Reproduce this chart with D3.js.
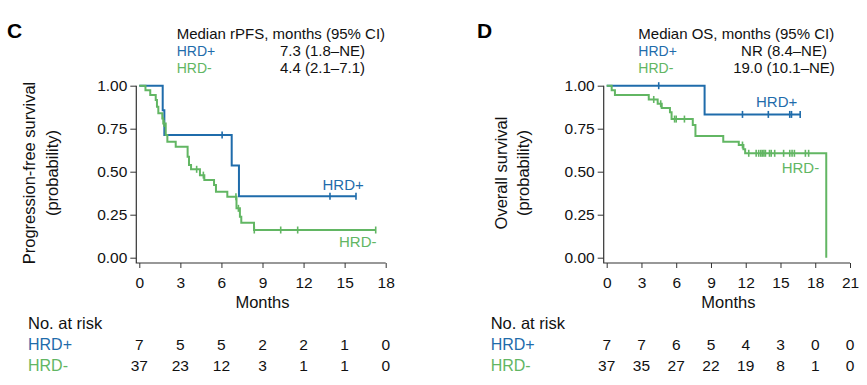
<!DOCTYPE html>
<html>
<head>
<meta charset="utf-8">
<script src="https://cdn.jsdelivr.net/npm/d3@7"></script>
<style>
body { margin: 0; background: #fff; }
svg { font-family: "Liberation Sans", Arial, sans-serif; }
</style>
</head>
<body>
<svg id="chart"></svg>
<script>
var width = 867;
var height = 385;

var blue = "#1f6cab";
var green = "#62b663";

// rPFS panel (C)
var pfsTicks = [0, 3, 6, 9, 12, 15, 18];
var pfsPosTimes = [0, 1.71, 1.83, 6.75, 7.28];
var pfsPosSurv = [1, 0.857, 0.714, 0.536, 0.357];
var pfsPosCensor = [6.05, 13.93, 15.83];
var pfsPosEnd = 15.83;
var pfsNegTimes = [0, 0.45, 0.8, 1.2, 1.29, 1.39, 1.68, 1.75, 1.93, 2.05, 2.66, 3.53, 3.63, 3.78, 4.43, 4.75, 5.46, 5.6, 6.43, 7.1, 7.35, 7.45, 8.38];
var pfsNegSurv = [1, 0.973, 0.946, 0.917, 0.878, 0.84, 0.81, 0.78, 0.713, 0.674, 0.645, 0.587, 0.539, 0.514, 0.48, 0.452, 0.423, 0.384, 0.355, 0.287, 0.238, 0.203, 0.161];
var pfsNegCensor = [1.8, 4.19, 4.68, 7.06, 7.24, 8.4, 10.33, 11.57, 17.27];
var pfsNegEnd = 17.27;
var pfsRiskPos = [7, 5, 5, 2, 2, 1, 0];
var pfsRiskNeg = [37, 23, 12, 3, 1, 1, 0];

// OS panel (D)
var osTicks = [0, 3, 6, 9, 12, 15, 18, 21];
var osPosTimes = [0, 8.45];
var osPosSurv = [1, 0.833];
var osPosCensor = [4.49, 11.72, 13.95, 15.8, 15.95, 16.7];
var osPosEnd = 16.7;
var osNegTimes = [0, 0.43, 0.71, 3.63, 4.4, 4.75, 5.46, 5.6, 7.43, 7.66, 10.06, 11.4, 11.8, 11.95, 18.95];
var osNegSurv = [1, 0.973, 0.946, 0.92, 0.895, 0.87, 0.845, 0.806, 0.772, 0.708, 0.674, 0.655, 0.63, 0.607, 0];
var osNegCensor = [4.06, 4.66, 5.86, 6.0, 6.71, 11.72, 12.26, 12.9, 13.12, 13.3, 13.43, 13.57, 13.7, 14.05, 14.2, 14.5, 15.27, 15.8, 16.0, 16.2, 17.15, 17.43];
var osNegEnd = 18.95;
var osRiskPos = [7, 7, 6, 5, 4, 3, 0, 0];
var osRiskNeg = [37, 35, 27, 22, 19, 8, 1, 0];

var yTicks = [0, 0.25, 0.5, 0.75, 1];

var svg = d3.select("#chart")
.attr("width", width)
.attr("height", height);

function drawPanel(p) {
	var g = svg.append("g");
	var x = d3.scaleLinear().domain([0, p.ticks[p.ticks.length - 1]]).range([p.x0, p.x1]);
	var y = d3.scaleLinear().domain([0, 1]).range([257.7, 85.7]);
	var axisX = p.x0 - 3;
	var axisY = 263;

	// panel letter and median table
	g.append("text").attr("x", p.letterX).attr("y", 37.5)
	.style("font-size", "21px").style("font-weight", "bold").text(p.letter);
	g.append("text").attr("x", p.headX).attr("y", 39)
	.style("font-size", "15px").style("fill", "#111").text(p.title);
	[[p.medPos, blue, "HRD+", 56], [p.medNeg, green, "HRD-", 73]].forEach(function (r) {
		g.append("text").attr("x", p.headX).attr("y", r[3])
		.style("font-size", "14px").style("fill", r[1]).text(r[2]);
		g.append("text").attr("x", p.medX).attr("y", r[3])
		.style("font-size", "15px").style("fill", "#111")
		.style("text-anchor", "middle").text(r[0]);
	});

	// axes
	g.append("g").attr("transform", "translate(" + axisX + ",0)")
	.call(d3.axisLeft(y).tickValues(yTicks).tickFormat(d3.format(".2f"))
		.tickSize(6).tickPadding(3))
	.call(function (a) { a.select(".domain").remove(); });
	g.append("g").attr("transform", "translate(0," + axisY + ")")
	.call(d3.axisBottom(x).tickValues(p.ticks).tickSize(5).tickPadding(9))
	.call(function (a) { a.select(".domain").remove(); });
	g.selectAll(".tick text").style("font-size", "15.5px").style("fill", "#111")
	.style("font-family", "'Liberation Sans', Arial, sans-serif");
	g.selectAll(".tick line").style("stroke", "#333");
	g.append("path")
	.attr("d", "M" + axisX + "," + y(1) + "V" + axisY + "H" + x(p.ticks[p.ticks.length - 1]))
	.style("fill", "none").style("stroke", "#333").style("stroke-width", 1.2);

	g.append("text").attr("x", (p.x0 + p.x1) / 2).attr("y", 308)
	.style("font-size", "16.5px").style("text-anchor", "middle").style("fill", "#111")
	.text("Months");

	p.yTitle.forEach(function (t, i) {
		g.append("text")
		.attr("transform", "translate(" + p.yTitleX[i] + ",173) rotate(-90)")
		.style("font-size", "16.5px").style("text-anchor", "middle").style("fill", "#111")
		.text(t);
	});

	// curves
	var line = d3.line()
	.x(function (d) { return x(d[0]); })
	.y(function (d) { return y(d[1]); })
	.curve(d3.curveStepAfter);

	p.curves.forEach(function (c) {
		var pts = c.times.map(function (t, i) { return [t, c.surv[i]]; });
		pts.push([c.end, c.surv[c.surv.length - 1]]);
		g.append("path").attr("d", line(pts))
		.style("fill", "none").style("stroke", c.color).style("stroke-width", 2);
		g.selectAll(null).data(c.censor).enter().append("line")
		.attr("x1", function (d) { return x(d); })
		.attr("x2", function (d) { return x(d); })
		.attr("y1", function (d) { return y(c.surv[d3.bisectRight(c.times, d) - 1]) - 3.5; })
		.attr("y2", function (d) { return y(c.surv[d3.bisectRight(c.times, d) - 1]) + 3.5; })
		.style("stroke", c.color).style("stroke-width", 1.6);
		g.append("text").attr("x", c.labelX).attr("y", c.labelY)
		.style("font-size", "15px").style("fill", c.color).text(c.label);
	});

	// number at risk
	g.append("text").attr("x", p.riskX).attr("y", 329)
	.style("font-size", "16.5px").style("fill", "#111").text("No. at risk");
	[[p.riskPos, blue, "HRD+", 350], [p.riskNeg, green, "HRD-", 370.5]].forEach(function (r) {
		g.append("text").attr("x", p.riskX).attr("y", r[3])
		.style("font-size", "16px").style("fill", r[1]).text(r[2]);
		g.selectAll(null).data(r[0]).enter().append("text")
		.attr("x", function (d, i) { return x(p.ticks[i]); })
		.attr("y", r[3])
		.style("font-size", "15.5px").style("fill", "#111").style("text-anchor", "middle")
		.text(function (d) { return d; });
	});
}

drawPanel({
	letter: "C", letterX: 7, headX: 176.7, medX: 322.5,
	title: "Median rPFS, months (95% CI)",
	medPos: "7.3 (1.8\u2013NE)", medNeg: "4.4 (2.1\u20137.1)",
	ticks: pfsTicks, x0: 139.3, x1: 385.7,
	yTitle: ["Progression-free survival", "(probability)"], yTitleX: [35, 58],
	riskX: 28, riskPos: pfsRiskPos, riskNeg: pfsRiskNeg,
	curves: [
		{ times: pfsPosTimes, surv: pfsPosSurv, censor: pfsPosCensor, end: pfsPosEnd,
			color: blue, label: "HRD+", labelX: 322.5, labelY: 190 },
		{ times: pfsNegTimes, surv: pfsNegSurv, censor: pfsNegCensor, end: pfsNegEnd,
			color: green, label: "HRD-", labelX: 339, labelY: 247 }
	]
});

drawPanel({
	letter: "D", letterX: 477, headX: 638.3, medX: 784,
	title: "Median OS, months (95% CI)",
	medPos: "NR (8.4\u2013NE)", medNeg: "19.0 (10.1\u2013NE)",
	ticks: osTicks, x0: 606.7, x1: 850,
	yTitle: ["Overall survival", "(probability)"], yTitleX: [507, 528.5],
	riskX: 490.7, riskPos: osRiskPos, riskNeg: osRiskNeg,
	curves: [
		{ times: osPosTimes, surv: osPosSurv, censor: osPosCensor, end: osPosEnd,
			color: blue, label: "HRD+", labelX: 756, labelY: 107 },
		{ times: osNegTimes, surv: osNegSurv, censor: osNegCensor, end: osNegEnd,
			color: green, label: "HRD-", labelX: 781.7, labelY: 173 }
	]
});
</script>
</body>
</html>
